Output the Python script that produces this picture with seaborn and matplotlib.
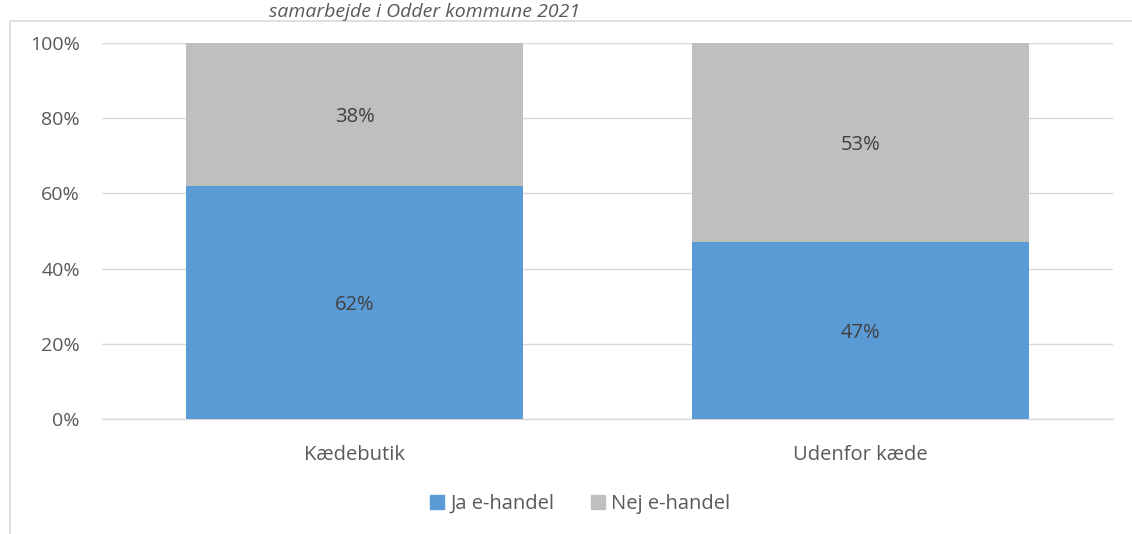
import pandas as pd
import matplotlib.pyplot as plt
import seaborn as sns
from matplotlib.patches import Rectangle
from matplotlib.ticker import PercentFormatter

categories = ["Kædebutik", "Udenfor kæde"]
ja_ehandel = [62, 47]
nej_ehandel = [38, 53]
series_names = ["Ja e-handel", "Nej e-handel"]
title_line = "samarbejde i Odder kommune 2021"

blue = "#5B9BD5"
grey = "#BFBFBF"
text_col = "#595959"

sns.set_theme(style="white")
plt.rcParams["font.family"] = ["Open Sans", "DejaVu Sans"]

df = pd.DataFrame({"kategori": categories, "ja": ja_ehandel, "nej": nej_ehandel})
df["total"] = df["ja"] + df["nej"]

fig = plt.figure(figsize=(11.32, 5.34), dpi=100)
ax = fig.add_axes([102 / 1132, 1 - 419 / 534, 1011 / 1132, 376 / 534])

# stacked: draw total in grey, then the blue part over it
sns.barplot(data=df, x="kategori", y="total", color=grey, width=0.667,
            saturation=1, linewidth=0, ax=ax, zorder=2)
sns.barplot(data=df, x="kategori", y="ja", color=blue, width=0.667,
            saturation=1, linewidth=0, ax=ax, zorder=3)

for i, (ja, nej) in enumerate(zip(df["ja"], df["nej"])):
    ax.text(i, ja / 2, f"{ja}%", ha="center", va="center_baseline", fontsize=14.5,
            color="#404040", zorder=4)
    ax.text(i, ja + nej / 2, f"{nej}%", ha="center", va="center_baseline",
            fontsize=14.5, color="#404040", zorder=4)

ax.set_xlim(-0.5, 1.5)
ax.set_ylim(0, 100)
ax.set_yticks(range(0, 101, 20))
ax.yaxis.set_major_formatter(PercentFormatter(decimals=0))
ax.grid(axis="y", color="#D9D9D9", linewidth=1.0, zorder=0)
ax.set_axisbelow(True)
for s in ["top", "right", "left"]:
    ax.spines[s].set_visible(False)
ax.spines["bottom"].set_color("#D9D9D9")
ax.spines["bottom"].set_linewidth(1.0)
ax.set_xlabel("")
ax.set_ylabel("")
ax.tick_params(axis="y", length=0, labelsize=14, colors=text_col, pad=16)
ax.tick_params(axis="x", length=0, labelsize=14.5, colors=text_col, pad=19)

handles = [Rectangle((0, 0), 1, 1, color=blue), Rectangle((0, 0), 1, 1, color=grey)]
fig.legend(handles, series_names, loc="center", bbox_to_anchor=(580 / 1132, 1 - 504 / 534),
           ncol=2, frameon=False, fontsize=14.5, handlelength=0.7, handleheight=0.7,
           handletextpad=0.3, columnspacing=1.8, labelcolor=text_col)

# outer chart frame
fig.patches.append(Rectangle((10 / 1132, -0.1), 1.2, 1 - 21 / 534 + 0.1,
                             transform=fig.transFigure, fill=False,
                             edgecolor="#D9D9D9", linewidth=1.2))

fig.text(425 / 1132, 1 - 17 / 534, title_line, ha="center", va="baseline",
         fontsize=14, style="italic", color=text_col)

fig.savefig("out.png", dpi=100)
